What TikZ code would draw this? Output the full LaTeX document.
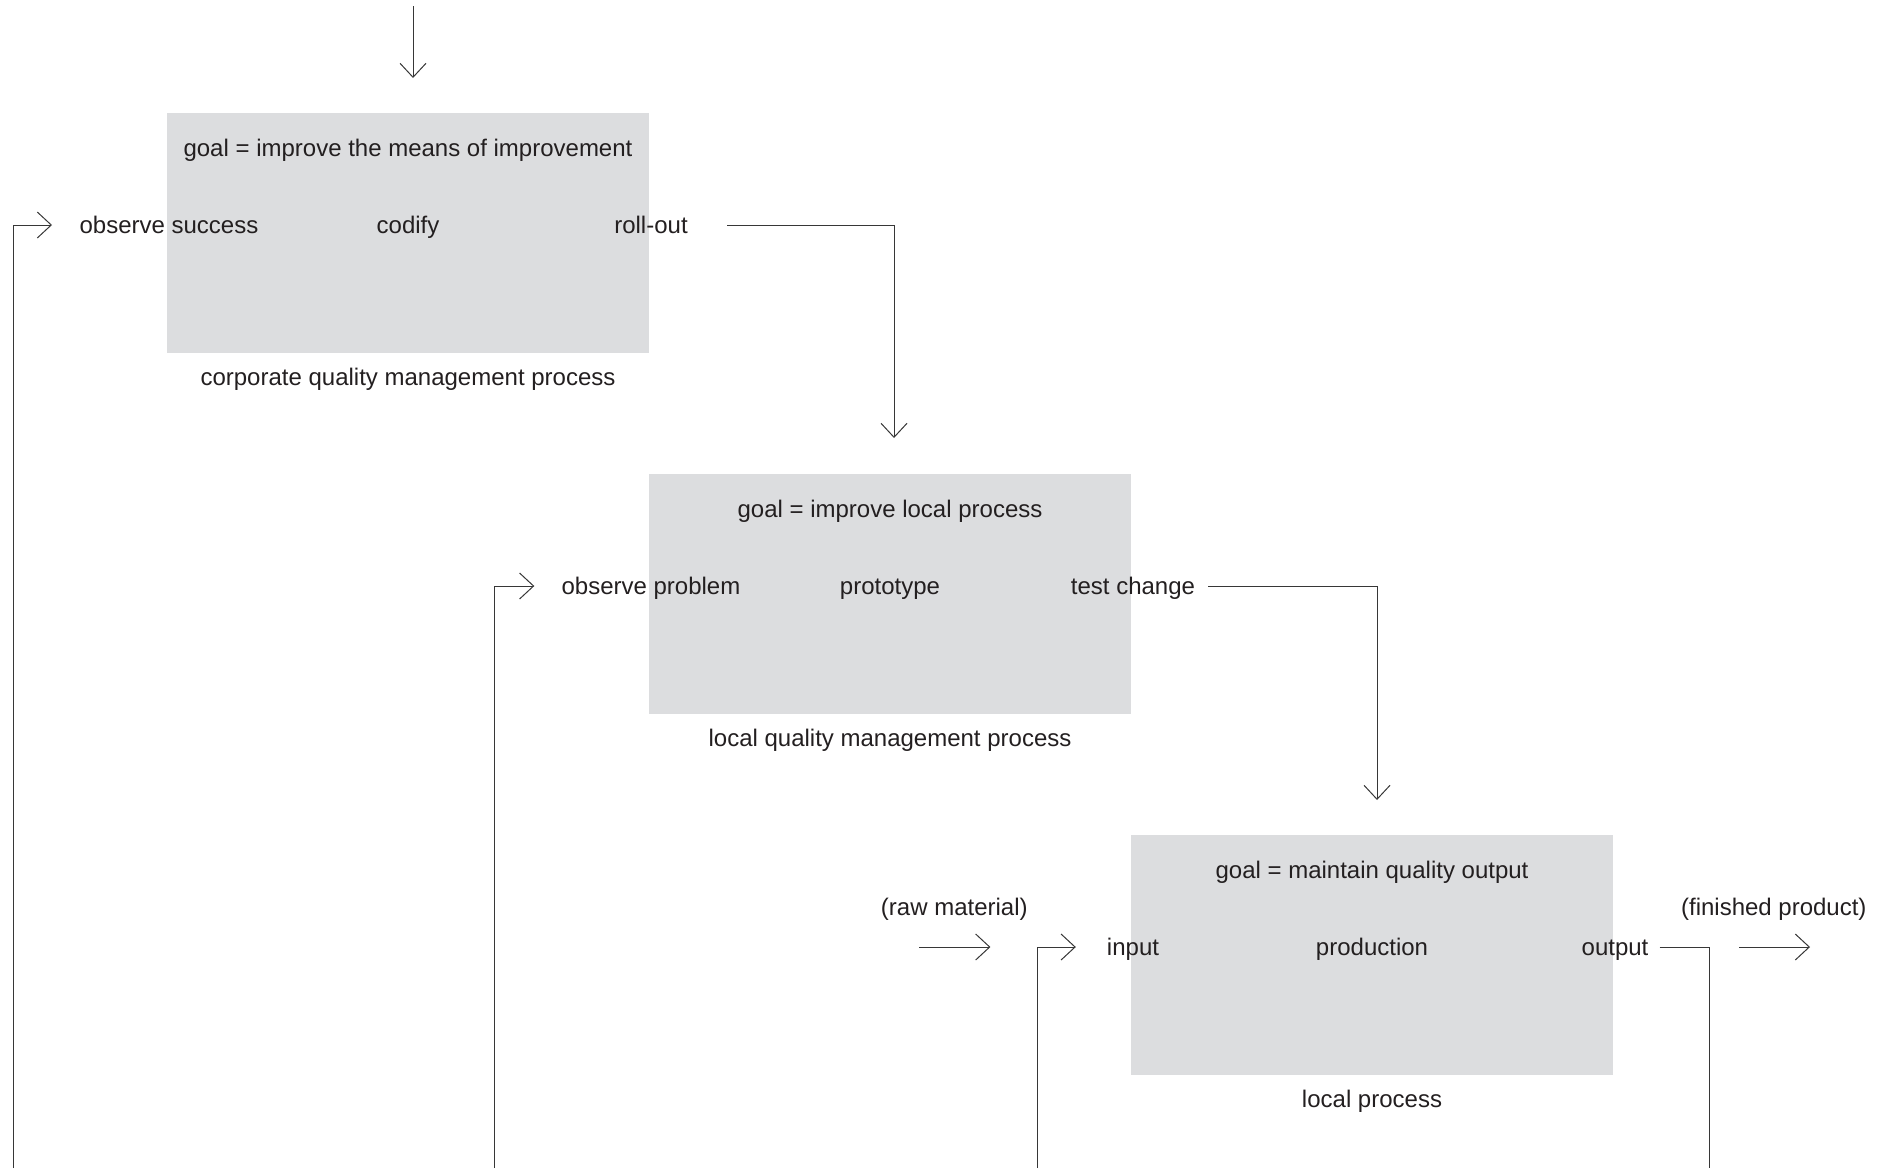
\documentclass[tikz,border=0pt]{standalone}
\usepackage{fontspec}
\setmainfont{Liberation Sans}
\usetikzlibrary{arrows.meta}
\definecolor{boxgrey}{RGB}{220,221,223}
\definecolor{ink}{RGB}{35,31,32}
\definecolor{linegrey}{RGB}{55,55,55}
\begin{document}
\begin{tikzpicture}[x=1pt,y=-1pt,
  proc/.style={fill=boxgrey, draw=none, minimum width=482pt, minimum height=240pt,
               inner sep=0pt, outer sep=0pt, anchor=north west},
  lbl/.style={font=\fontsize{24}{28}\selectfont, text=ink, inner sep=0pt, anchor=base},
  flow/.style={draw=linegrey, line width=1pt, -{Straight Barb[length=14pt,width=26pt]}},
  wire/.style={draw=linegrey, line width=1pt}]
\path[use as bounding box] (0,0) rectangle (1887,1168);

% process boxes
\node[proc] (b1) at (167,113) {};
\node[proc] (b2) at (649,474) {};
\node[proc] (b3) at (1131,835) {};

% corporate quality management process
\node[lbl] (g1) at (408,156) {goal = improve the means of improvement};
\node[lbl] (os) at (169,233) {observe success};
\node[lbl] (cd) at (408,233) {codify};
\node[lbl] (ro) at (651,233) {roll-out};
\node[lbl] (c1) at (408,385) {corporate quality management process};

% local quality management process
\node[lbl] (g2) at (890,517) {goal = improve local process};
\node[lbl] (op) at (651,594) {observe problem};
\node[lbl] (pt) at (890,594) {prototype};
\node[lbl] (tc) at (1133,594) {test change};
\node[lbl] (c2) at (890,746) {local quality management process};

% local process
\node[lbl] (g3) at (1372,878) {goal = maintain quality output};
\node[lbl] (ip) at (1133,955) {input};
\node[lbl] (pr) at (1372,955) {production};
\node[lbl] (ot) at (1615,955) {output};
\node[lbl] (c3) at (1372,1107) {local process};

\node[lbl] (raw) at (954.3,915) {(raw material)};
\node[lbl] (fin) at (1773.8,915) {(finished product)};

% connector end points and corners
\coordinate (top0) at (413,6);
\coordinate (top1) at (413,78);
\coordinate (r1a) at (727,225);
\coordinate (r1b) at (894,225);
\coordinate (r1c) at (894,438);
\coordinate (r2a) at (1208,586);
\coordinate (r2b) at (1377,586);
\coordinate (r2c) at (1377,800);
\coordinate (r3a) at (1659.5,947);
\coordinate (r3b) at (1709,947);
\coordinate (r3c) at (1709,1168);
\coordinate (f1a) at (13,1168);
\coordinate (f1b) at (13,225);
\coordinate (f1c) at (52,225);
\coordinate (f2a) at (494.6,1168);
\coordinate (f2b) at (494.6,586);
\coordinate (f2c) at (534.3,586);
\coordinate (f3a) at (1037.3,1168);
\coordinate (f3b) at (1037.3,947);
\coordinate (f3c) at (1075.8,947);
\coordinate (rawa) at (919.4,947);
\coordinate (rawb) at (990.4,947);
\coordinate (fina) at (1739,947);
\coordinate (finb) at (1810,947);

% connectors
\draw[flow] (top0) -- (top1);
\draw[flow] (r1a) -- (r1b) -- (r1c);
\draw[flow] (r2a) -- (r2b) -- (r2c);
\draw[wire] (r3a) -- (r3b) -- (r3c);
\draw[flow] (f1a) -- (f1b) -- (f1c);
\draw[flow] (f2a) -- (f2b) -- (f2c);
\draw[flow] (f3a) -- (f3b) -- (f3c);
\draw[flow] (rawa) -- (rawb);
\draw[flow] (fina) -- (finb);
\end{tikzpicture}
\end{document}
